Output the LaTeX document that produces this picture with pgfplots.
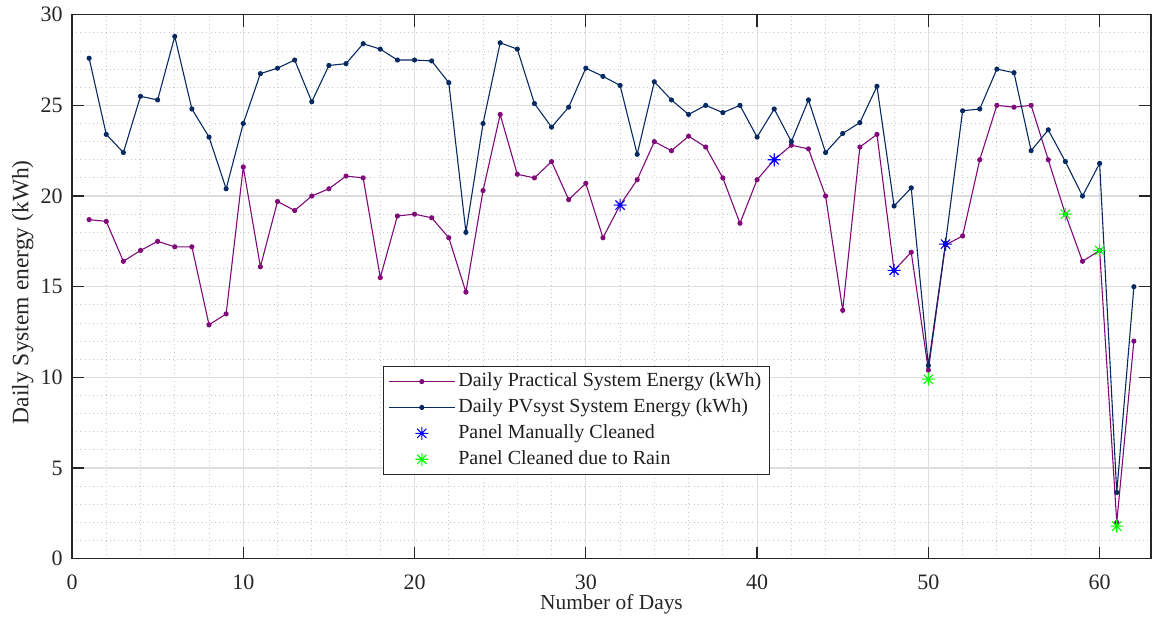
\documentclass[border=0pt]{standalone}
\usepackage{fontspec}
\setmainfont{Liberation Serif}
\usepackage{pgfplots}
\pgfplotsset{compat=1.18}

\definecolor{practical}{RGB}{128,10,120}
\definecolor{pvsyst}{RGB}{8,42,98}
\definecolor{axisgray}{RGB}{38,38,38}
\definecolor{majgrid}{RGB}{222,222,222}
\definecolor{mingrid}{RGB}{200,200,200}

% eight-spoke asterisk
\pgfdeclareplotmark{star8}{%
  \pgfpathmoveto{\pgfqpoint{-\pgfplotmarksize}{0pt}}%
  \pgfpathlineto{\pgfqpoint{\pgfplotmarksize}{0pt}}%
  \pgfpathmoveto{\pgfqpoint{0pt}{-\pgfplotmarksize}}%
  \pgfpathlineto{\pgfqpoint{0pt}{\pgfplotmarksize}}%
  \pgfpathmoveto{\pgfqpoint{-0.7071\pgfplotmarksize}{-0.7071\pgfplotmarksize}}%
  \pgfpathlineto{\pgfqpoint{0.7071\pgfplotmarksize}{0.7071\pgfplotmarksize}}%
  \pgfpathmoveto{\pgfqpoint{-0.7071\pgfplotmarksize}{0.7071\pgfplotmarksize}}%
  \pgfpathlineto{\pgfqpoint{0.7071\pgfplotmarksize}{-0.7071\pgfplotmarksize}}%
  \pgfusepathqstroke}

\pgfplotstableread{
day practical pvsyst
1  18.7  27.6
2  18.6  23.4
3  16.4  22.4
4  17.0  25.5
5  17.5  25.3
6  17.2  28.8
7  17.2  24.8
8  12.9  23.25
9  13.5  20.4
10 21.6  24.0
11 16.1  26.75
12 19.7  27.05
13 19.2  27.5
14 20.0  25.2
15 20.4  27.2
16 21.1  27.3
17 21.0  28.4
18 15.5  28.1
19 18.9  27.5
20 19.0  27.5
21 18.8  27.45
22 17.7  26.25
23 14.7  18.0
24 20.3  24.0
25 24.5  28.45
26 21.2  28.1
27 21.0  25.1
28 21.9  23.8
29 19.8  24.9
30 20.7  27.05
31 17.7  26.6
32 19.5  26.1
33 20.9  22.3
34 23.0  26.3
35 22.5  25.3
36 23.3  24.5
37 22.7  25.0
38 21.0  24.6
39 18.5  25.0
40 20.9  23.25
41 22.0  24.8
42 22.8  23.0
43 22.6  25.3
44 20.0  22.4
45 13.7  23.45
46 22.7  24.05
47 23.4  26.05
48 15.9  19.45
49 16.9  20.45
50 10.4  10.65
51 17.3  17.4
52 17.8  24.7
53 22.0  24.8
54 25.0  27.0
55 24.9  26.8
56 25.0  22.5
57 22.0  23.65
58 19.0  21.9
59 16.4  20.0
60 17.0  21.8
61 2.0   3.65
62 12.0  15.0
}\energy

\pgfplotstableread{
day value
32 19.5
41 22.0
48 15.9
51 17.35
}\manual

\pgfplotstableread{
day value
50 9.9
58 19.0
60 17.0
61 1.8
}\rain

\begin{document}
\begin{tikzpicture}
\begin{axis}[
  scale only axis,
  width=1079pt, height=544pt,
  xmin=0, xmax=63, ymin=0, ymax=30,
  xtick distance=10, ytick distance=5,
  minor x tick num=4, minor y tick num=4,
  grid=both,
  major grid style={majgrid, line width=1.1pt},
  minor grid style={mingrid, line width=0.9pt, dash pattern=on 1pt off 3.2pt},
  axis line style={axisgray, line width=1.2pt},
  tick style={axisgray, line width=1.2pt},
  major tick length=12pt, minor tick length=0pt,
  tick align=inside,
  /pgf/number format/assume math mode=true,
  ticklabel style={font=\fontsize{22}{24}\selectfont, text=axisgray},
  xticklabel style={anchor=north, inner sep=0pt, yshift=-16pt},
  yticklabel style={anchor=east, inner sep=0pt, xshift=-9.3pt},
  xlabel={Number of Days},
  ylabel={Daily System energy (kWh)},
  every axis x label/.style={at={(axis description cs:0.5,-0.0925)}, anchor=base,
    font=\fontsize{21.4}{23}\selectfont, text=axisgray},
  every axis y label/.style={at={(axis description cs:-0.0405,0.49)}, anchor=base, rotate=90,
    font=\fontsize{23.5}{25}\selectfont, text=axisgray},
  legend cell align=left,
  legend style={at={(0.288,0.354)}, anchor=north west,
    draw=axisgray, line width=1pt, fill=white,
    inner xsep=5pt, inner ysep=2pt, row sep=0pt,
    nodes={font=\fontsize{20}{22}\selectfont, text=black!88,
      text height=14.5pt, text depth=5pt, inner ysep=3.2pt, inner xsep=3pt}},
  legend image code/.code={%
    \draw[mark repeat=2, mark phase=2, #1]
      plot coordinates {(0pt,0pt) (33pt,0pt) (66pt,0pt)};},
]
\addplot[practical, line width=1.1pt, mark=*, mark size=2pt] table[x=day, y=practical] {\energy};
\addlegendentry{Daily Practical System Energy (kWh)}
\addplot[pvsyst, line width=1.1pt, mark=*, mark size=2pt] table[x=day, y=pvsyst] {\energy};
\addlegendentry{Daily PVsyst System Energy (kWh)}
\addplot[only marks, blue, mark=star8, mark size=6.5pt, line width=1.1pt] table[x=day, y=value] {\manual};
\addlegendentry{Panel Manually Cleaned}
\addplot[only marks, green, mark=star8, mark size=6.5pt, line width=1.1pt] table[x=day, y=value] {\rain};
\addlegendentry{Panel Cleaned due to Rain}
\end{axis}
\path ([shift={(-72pt,-66.3pt)}]current axis.south west)
  rectangle ([shift={(1pt,14.7pt)}]current axis.north east);
\end{tikzpicture}
\end{document}
